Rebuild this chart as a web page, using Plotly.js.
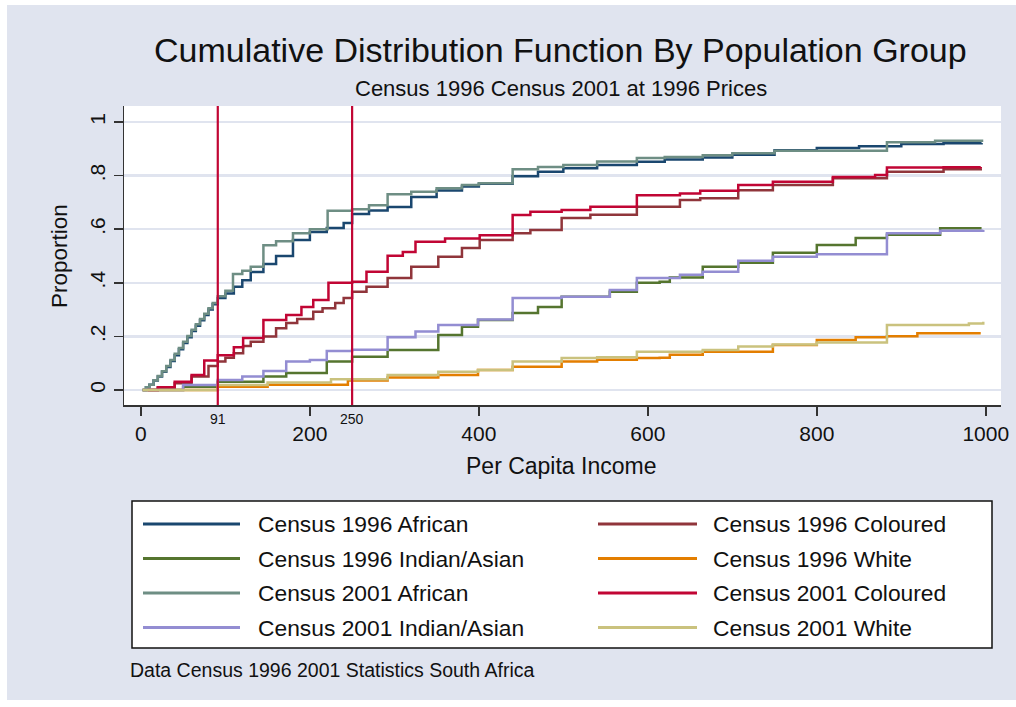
<!DOCTYPE html>
<html><head><meta charset="utf-8">
<script src="https://cdn.plot.ly/plotly-3.0.1.min.js"></script>
<style>
html,body{margin:0;padding:0;background:#ffffff;}
#chart{position:absolute;left:7px;top:5px;width:1009px;height:695px;}
</style>
</head><body><div id="chart"></div>
<script>
// ---------- data ----------
const seriesNames = [
  "Census 1996 African", "Census 1996 Coloured",
  "Census 1996 Indian/Asian", "Census 1996 White",
  "Census 2001 African", "Census 2001 Coloured",
  "Census 2001 Indian/Asian", "Census 2001 White"
];
const seriesColors = ["#1a476f", "#90353b", "#55752f", "#e37e00",
                      "#6e8e84", "#c10534", "#938dd2", "#cac27e"];

const x96African = [2, 6, 10, 15, 20, 25, 30, 35, 40, 45, 50, 55, 60, 65, 70, 75, 80, 85, 91, 100, 110, 120, 130, 145, 160, 180, 200, 220, 240, 250, 270, 292, 320, 350, 380, 400, 440, 470, 500, 540, 587, 620, 665, 700, 750, 800, 850, 900, 950, 995];
const y96African = [0, 0.01, 0.02, 0.035, 0.05, 0.068, 0.086, 0.108, 0.13, 0.152, 0.175, 0.197, 0.22, 0.24, 0.26, 0.28, 0.3, 0.32, 0.343, 0.36, 0.385, 0.41, 0.44, 0.47, 0.5, 0.56, 0.59, 0.605, 0.623, 0.657, 0.67, 0.683, 0.72, 0.745, 0.76, 0.77, 0.798, 0.815, 0.828, 0.84, 0.852, 0.86, 0.868, 0.878, 0.895, 0.903, 0.91, 0.918, 0.921, 0.922];

const x96Coloured = [8, 20, 40, 60, 80, 91, 100, 110, 121, 130, 145, 160, 172, 185, 204, 215, 230, 240, 250, 267, 292, 320, 352, 380, 401, 440, 461, 498, 532, 587, 638, 662, 707, 748, 819, 883, 950, 994];
const y96Coloured = [0, 0.008, 0.025, 0.05, 0.09, 0.106, 0.12, 0.137, 0.164, 0.18, 0.2, 0.23, 0.25, 0.265, 0.292, 0.305, 0.325, 0.343, 0.367, 0.385, 0.418, 0.46, 0.497, 0.53, 0.56, 0.585, 0.597, 0.642, 0.654, 0.684, 0.709, 0.716, 0.746, 0.765, 0.79, 0.815, 0.824, 0.828];

const x96Indian = [2, 50, 91, 145, 172, 220, 250, 292, 352, 380, 399, 440, 470, 498, 555, 587, 614, 626, 665, 707, 748, 800, 846, 883, 946, 995];
const y96Indian = [0, 0.012, 0.031, 0.05, 0.063, 0.106, 0.124, 0.149, 0.205, 0.236, 0.261, 0.287, 0.31, 0.348, 0.367, 0.4, 0.404, 0.42, 0.46, 0.475, 0.512, 0.541, 0.567, 0.579, 0.604, 0.604];

const x96White = [2, 91, 150, 245, 292, 352, 399, 440, 498, 540, 587, 614, 626, 665, 748, 800, 846, 883, 919, 994];
const y96White = [0, 0.012, 0.02, 0.035, 0.047, 0.056, 0.075, 0.087, 0.106, 0.113, 0.119, 0.12, 0.132, 0.143, 0.168, 0.187, 0.197, 0.201, 0.212, 0.212];

const x01African = [2, 6, 10, 15, 20, 25, 30, 35, 40, 45, 50, 55, 60, 65, 70, 75, 80, 85, 91, 100, 109, 120, 130, 145, 160, 180, 200, 221, 250, 270, 292, 320, 350, 380, 400, 440, 470, 500, 540, 587, 620, 665, 700, 750, 883, 940, 997];
const y01African = [0, 0.01, 0.02, 0.036, 0.052, 0.07, 0.09, 0.112, 0.135, 0.157, 0.18, 0.202, 0.225, 0.245, 0.265, 0.285, 0.305, 0.325, 0.35, 0.37, 0.433, 0.445, 0.46, 0.54, 0.555, 0.585, 0.6, 0.669, 0.675, 0.69, 0.731, 0.74, 0.753, 0.765, 0.772, 0.824, 0.832, 0.84, 0.853, 0.866, 0.87, 0.876, 0.884, 0.893, 0.925, 0.93, 0.93];

const x01Coloured = [8, 20, 40, 60, 75, 91, 110, 121, 145, 172, 190, 204, 222, 250, 267, 292, 310, 325, 360, 401, 440, 461, 498, 532, 587, 638, 662, 707, 748, 819, 869, 883, 950, 994];
const y01Coloured = [0, 0.01, 0.031, 0.056, 0.11, 0.13, 0.16, 0.194, 0.261, 0.28, 0.31, 0.336, 0.4, 0.404, 0.441, 0.501, 0.515, 0.553, 0.565, 0.578, 0.653, 0.665, 0.672, 0.684, 0.727, 0.733, 0.744, 0.765, 0.777, 0.795, 0.802, 0.83, 0.831, 0.832];

const x01Indian = [2, 50, 91, 120, 145, 172, 200, 220, 250, 292, 325, 352, 399, 440, 498, 555, 587, 638, 665, 707, 748, 800, 883, 946, 997];
const y01Indian = [0, 0.019, 0.037, 0.05, 0.071, 0.106, 0.112, 0.146, 0.15, 0.197, 0.218, 0.243, 0.263, 0.343, 0.348, 0.373, 0.418, 0.43, 0.441, 0.482, 0.497, 0.507, 0.585, 0.594, 0.597];

const x01White = [2, 91, 150, 225, 292, 352, 399, 440, 498, 540, 587, 665, 707, 748, 800, 883, 980, 997];
const y01White = [0, 0.019, 0.028, 0.04, 0.056, 0.068, 0.075, 0.106, 0.119, 0.122, 0.143, 0.149, 0.162, 0.17, 0.177, 0.243, 0.248, 0.255];

const markerLines = [91, 250];
const markerLabels = ["91", "250"];
const xTickVals = [0, 200, 400, 600, 800, 1000];
const xTickText = ["0", "200", "400", "600", "800", "1000"];
const yTickVals = [0, 0.2, 0.4, 0.6, 0.8, 1];
const yTickText = ["0", ".2", ".4", ".6", ".8", "1"];

const titleText = "Cumulative Distribution Function By Population Group";
const subtitleText = "Census 1996 Census 2001 at 1996 Prices";
const xTitleText = "Per Capita Income";
const yTitleText = "Proportion";
const noteText = "Data Census 1996 2001 Statistics South Africa";

// ---------- build ----------
const xs = [x96African, x96Coloured, x96Indian, x96White, x01African, x01Coloured, x01Indian, x01White];
const ys = [y96African, y96Coloured, y96Indian, y96White, y01African, y01Coloured, y01Indian, y01White];

const FONT = "Liberation Sans, Arial, Helvetica, sans-serif";
const BG = "#e0e4ef";

// page-pixel helpers (plot area: x 124..1001, y 106..405 on page)
const PX0 = 124, PW = 877, PY1 = 405, PH = 299;
const px = v => (v - PX0) / PW;
const py = v => (PY1 - v) / PH;

const traces = xs.map((x, i) => ({
  type: "scatter", mode: "lines", x: x, y: ys[i], name: seriesNames[i],
  line: {color: seriesColors[i], width: 2.5, shape: "hv"},
  hoverinfo: "skip", showlegend: false
}));

const shapes = [];
const annotations = [];

markerLines.forEach((v, i) => {
  shapes.push({type: "line", xref: "x", yref: "paper", x0: v, x1: v, y0: 0, y1: 1,
    line: {color: "#c10534", width: 2.2}, layer: "above"});
  annotations.push({xref: "x", yref: "paper", x: v, y: py(419), text: markerLabels[i],
    showarrow: false, xanchor: "center", yanchor: "middle",
    font: {family: FONT, size: 14, color: "#111"}});
});

function txt(t, x, y, size, opts) {
  return Object.assign({xref: "paper", yref: "paper", x: px(x), y: py(y), text: t,
    showarrow: false, xanchor: "center", yanchor: "middle",
    font: {family: FONT, size: size, color: "#111"}}, opts || {});
}
annotations.push(txt(titleText, 560, 50, 34));
annotations.push(txt(subtitleText, 561, 88, 22));
annotations.push(txt(xTitleText, 561, 466, 23));
annotations.push(txt(yTitleText, 59, 256, 22.5, {textangle: -90}));
annotations.push(txt(noteText, 128, 670, 19.5, {xanchor: "left"}));

// legend box
shapes.push({type: "rect", xref: "paper", yref: "paper", x0: px(132), x1: px(992), y0: py(648), y1: py(501),
  line: {color: "#111", width: 1.5}, fillcolor: "#ffffff", layer: "below"});
const colLineX = [[143, 240], [598, 697]];
const colTextX = [256, 711];
seriesNames.forEach((n, i) => {
  const row = Math.floor(i / 2), col = i % 2;
  const yy = 524 + row * 34.5;
  shapes.push({type: "line", xref: "paper", yref: "paper",
    x0: px(colLineX[col][0]), x1: px(colLineX[col][1]), y0: py(yy), y1: py(yy),
    line: {color: seriesColors[i], width: 3}});
  annotations.push(txt(n, colTextX[col], yy, 22.8, {xanchor: "left"}));
});

const layout = {
  width: 1009, height: 695,
  margin: {l: 117, r: 15, t: 101, b: 295, pad: 0},
  paper_bgcolor: BG, plot_bgcolor: "#ffffff",
  font: {family: FONT, color: "#111"},
  showlegend: false,
  xaxis: {range: [-20, 1018], tickmode: "array", tickvals: xTickVals, ticktext: xTickText,
    ticks: "outside", ticklen: 9, tickwidth: 1.5, tickcolor: "#333",
    showline: true, linecolor: "#333", linewidth: 1.5, showgrid: false, zeroline: false,
    tickfont: {family: FONT, size: 21, color: "#111"}, fixedrange: true},
  yaxis: {range: [-0.056, 1.06], tickmode: "array", tickvals: yTickVals, ticktext: yTickText,
    ticks: "outside", ticklen: 9, tickwidth: 1.5, tickcolor: "#333", tickangle: -90,
    showline: true, linecolor: "#333", linewidth: 1.5, showgrid: true, gridcolor: BG, gridwidth: 2.5,
    zeroline: false, tickfont: {family: FONT, size: 21, color: "#111"}, fixedrange: true},
  shapes: shapes,
  annotations: annotations
};

Plotly.newPlot("chart", traces, layout, {displayModeBar: false, staticPlot: true});
</script>
</body></html>
